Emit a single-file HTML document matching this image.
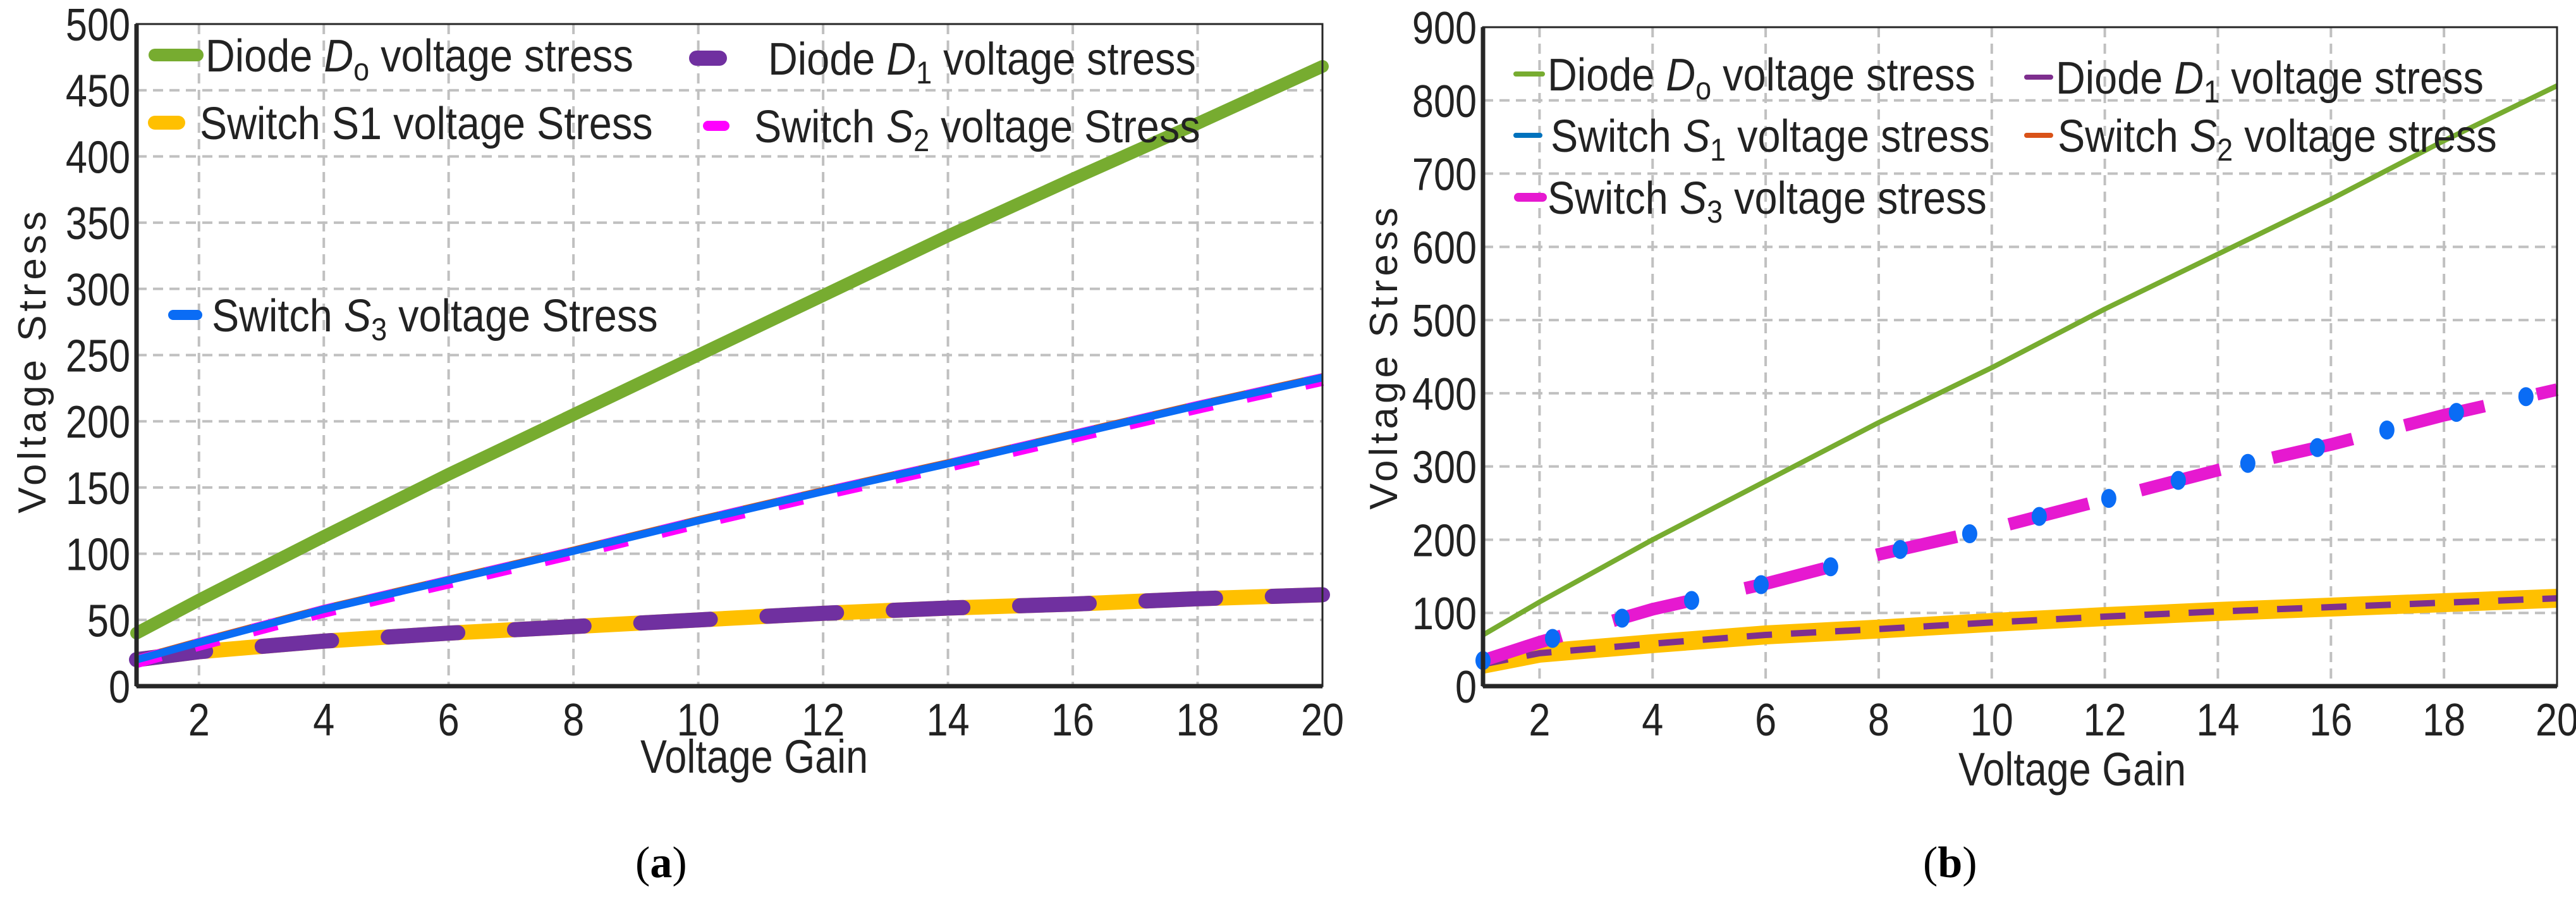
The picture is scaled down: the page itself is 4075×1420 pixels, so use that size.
<!DOCTYPE html>
<html><head><meta charset="utf-8"><style>
html,body{margin:0;padding:0;background:#fff}
svg{display:block}
text{font-family:"Liberation Sans",sans-serif;fill:#222}
</style></head><body>
<svg id="chart" width="4075" height="1420" viewBox="0 0 4075 1420" xmlns="http://www.w3.org/2000/svg"></svg>
<script>
// ---- data (panel a) ----
const gainA = [1,2,4,6,8,10,12,14,16,18,20];
const diodeDoA = [40,65,113,160,205,250,295,340,383,425,468];
const switchS2S3A = [20,33,58,80,102,125,147,168,190,212,233];
const switchS1D1A = [20,26,34,40,45,50,55,59,62,66,69];
const yTicksA = [0,50,100,150,200,250,300,350,400,450,500];
// ---- data (panel b) ----
const gainB = [1,2,4,6,8,10,12,14,16,18,20];
const diodeDoB = [70,115,200,280,360,435,515,590,665,745,820];
const switchS3B = [35,60,105,140,180,215,255,295,330,370,405];
const switchS1D1B = [30,45,58,70,78,87,95,102,108,114,120];
const yTicksB = [0,100,200,300,400,500,600,700,800,900];
const xTicks = [2,4,6,8,10,12,14,16,18,20];

const NS = "http://www.w3.org/2000/svg";
const svg = document.getElementById('chart');
function mk(tag, attrs, parent){
  const e = document.createElementNS(NS, tag);
  for (const k in attrs) e.setAttribute(k, attrs[k]);
  (parent||svg).appendChild(e);
  return e;
}
function ctext(parent, x, y, size, anchor, sc){
  return mk('text',{x:0,y:0,'text-anchor':anchor,'font-size':size,transform:`translate(${x},${y}) scale(${sc},1)`},parent);
}
function panel(cfg){
  const g = mk('g', {});
  
  
  const sx = v => cfg.x0 + (v-1)/(19)*(cfg.x1-cfg.x0);
  const sy = v => cfg.y1 - v/cfg.ymax*(cfg.y1-cfg.y0);
  cfg.yTicks.forEach(t=>{
    if(t>0 && t<cfg.ymax){
      const l = mk('line',{x1:cfg.x0,x2:cfg.x1,y1:sy(t),y2:sy(t),stroke:'#c0c0c0','stroke-width':4,'stroke-dasharray':'16 10'},g);
      
      
    }
    const tx = ctext(g, cfg.x0-10, sy(t)+26, 72, 'end', 0.85);
    tx.textContent = t;
    
    
  });
  xTicks.forEach(t=>{
    if(t<20){
      const l = mk('line',{x1:sx(t),x2:sx(t),y1:cfg.y0,y2:cfg.y1,stroke:'#c0c0c0','stroke-width':4,'stroke-dasharray':'16 10'},g);
      
      
    }
    const tx = ctext(g, sx(t), cfg.y1+78, 72, 'middle', 0.85);
    tx.textContent = t;
    
    
  });
  cfg.series.forEach(s=>{
    const d = s.xs.map((x,i)=>(i?'L':'M')+sx(x).toFixed(1)+' '+sy(s.ys[i]).toFixed(1)).join(' ');
    const p = mk('path',{d:d,fill:'none',stroke:s.color,'stroke-width':s.w,'stroke-linecap':s.cap||'butt','stroke-linejoin':'round'},g);
    if(s.dash) p.setAttribute('stroke-dasharray', s.dash);
    
    
    if(s.dots){
      for(let gx=1; gx<=19.7; gx+=1.23){
        let i=0; while(i<s.xs.length-2 && s.xs[i+1]<gx) i++;
        const f=(gx-s.xs[i])/(s.xs[i+1]-s.xs[i]);
        const v=s.ys[i]+f*(s.ys[i+1]-s.ys[i]);
        const c = mk('ellipse',{cx:sx(gx),cy:sy(v),rx:12,ry:15,fill:'#0a6cf5'},g);
        
        
      }
    }
  });
  const fr = mk('rect',{x:cfg.x0,y:cfg.y0,width:cfg.x1-cfg.x0,height:cfg.y1-cfg.y0,fill:'none',stroke:'#262626','stroke-width':3},g);
  
  
  mk('line',{x1:cfg.x0,x2:cfg.x1,y1:cfg.y1,y2:cfg.y1,stroke:'#262626','stroke-width':7},g);
  mk('line',{x1:cfg.x0,x2:cfg.x0,y1:cfg.y0,y2:cfg.y1,stroke:'#262626','stroke-width':7},g);
  const xt = ctext(g, cfg.xtX, cfg.xtY, 74, 'middle', 0.85);
  xt.textContent='Voltage Gain';
  
  
  const yt = mk('text',{x:0,y:0,'text-anchor':'middle','font-size':62,'letter-spacing':6,transform:`translate(${cfg.ytX},${cfg.ytY}) rotate(-90)`},g);
  yt.textContent='Voltage Stress';
  
  
  cfg.legend.forEach(L=>{
    const lg = mk('g',{},g);
    
    
    mk('line',{x1:L.sx1,x2:L.sx2,y1:L.y,y2:L.y,stroke:L.color,'stroke-width':L.sw,'stroke-linecap':'round'},lg);
    const t = mk('text',{x:0,y:0,'font-size':72,transform:`translate(${L.tx},${L.y+26}) scale(0.9,1)`},lg);
    t.innerHTML = L.html;
  });
}
const sub = (s)=>`<tspan font-style="italic">${s[0]}</tspan><tspan font-size="50" dy="14">${s[1]}</tspan><tspan dy="-14"> </tspan>`;
panel({name:'panel-a', x0:216,x1:2092,y0:38,y1:1085,ymax:500,yTicks:yTicksA,
  xtX:1193,xtY:1222,ytX:72,ytY:570,
  series:[
    {name:'line-diode-do',xs:gainA,ys:diodeDoA,color:'#77ac30',w:20,cap:'round'},
    {name:'line-switch-s1',xs:gainA,ys:switchS1D1A,color:'#ffc000',w:24},
    {name:'line-diode-d1',xs:gainA,ys:switchS1D1A,color:'#7030a0',w:24,cap:'round',dash:'110 90'},
    {name:'line-switch-s2-orange',xs:gainA,ys:switchS2S3A.map(v=>v+2),color:'#d95319',w:6},
    {name:'line-switch-s2',xs:gainA,ys:switchS2S3A.map(v=>v-1.5),color:'#ff00ff',w:20,dash:'40 55'},
    {name:'line-switch-s3',xs:gainA,ys:switchS2S3A,color:'#0a6cf5',w:12}
  ],
  legend:[
    {sx1:245,sx2:312,y:87,color:'#77ac30',sw:20,tx:325,html:'Diode '+sub('Do')+'voltage stress'},
    {sx1:1102,sx2:1138,y:92,color:'#7030a0',sw:24,tx:1215,html:'Diode '+sub('D1')+'voltage stress'},
    {sx1:245,sx2:282,y:194,color:'#ffc000',sw:22,tx:316,html:'Switch S1 voltage Stress'},
    {sx1:1120,sx2:1146,y:199,color:'#ff00ff',sw:16,tx:1193,html:'Switch '+sub('S2')+'voltage Stress'},
    {sx1:274,sx2:312,y:498,color:'#0a6cf5',sw:16,tx:335,html:'Switch '+sub('S3')+'voltage Stress'}
  ]});
panel({name:'panel-b', x0:2346,x1:4045,y0:43,y1:1085,ymax:900,yTicks:yTicksB,
  xtX:3278,xtY:1242,ytX:2210,ytY:564,
  series:[
    {name:'line-diode-do',xs:gainB,ys:diodeDoB,color:'#77ac30',w:8},
    {name:'line-switch-s1-yellow',xs:gainB,ys:switchS1D1B,color:'#ffc000',w:30},
    {name:'line-diode-d1',xs:gainB,ys:switchS1D1B,color:'#7e2f8e',w:10,dash:'40 30'},
    {name:'line-switch-s3',xs:gainB,ys:switchS3B,color:'#e619d0',w:20,dash:'130 85',dots:true}
  ],
  legend:[
    {sx1:2398,sx2:2440,y:117,color:'#77ac30',sw:8,tx:2448,html:'Diode '+sub('Do')+'voltage stress'},
    {sx1:3206,sx2:3244,y:122,color:'#7e2f8e',sw:8,tx:3252,html:'Diode '+sub('D1')+'voltage stress'},
    {sx1:2398,sx2:2436,y:214,color:'#0072bd',sw:8,tx:2453,html:'Switch '+sub('S1')+'voltage stress'},
    {sx1:3206,sx2:3244,y:214,color:'#d95319',sw:8,tx:3255,html:'Switch '+sub('S2')+'voltage stress'},
    {sx1:2402,sx2:2440,y:312,color:'#e619d0',sw:14,tx:2448,html:'Switch '+sub('S3')+'voltage stress'}
  ]});
</script>
<div style="position:absolute;left:1005px;top:1325px;font:70px 'Liberation Serif',serif">(<b>a</b>)</div>
<div style="position:absolute;left:3042px;top:1325px;font:70px 'Liberation Serif',serif">(<b>b</b>)</div>
</body></html>
